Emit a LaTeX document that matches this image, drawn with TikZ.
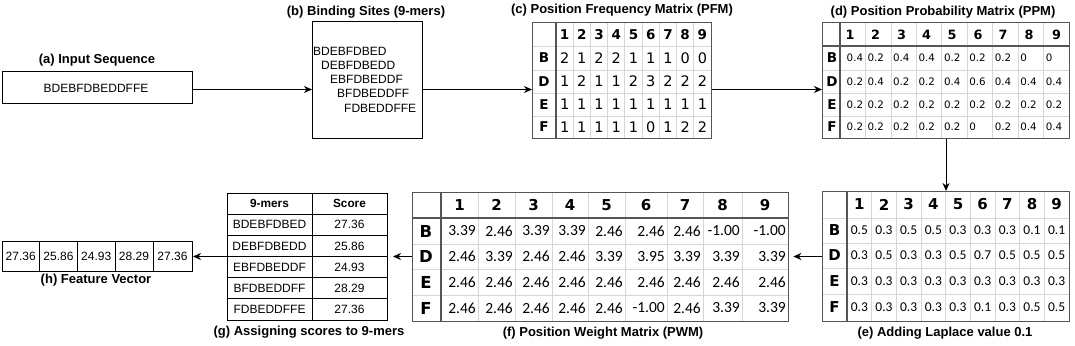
\documentclass[tikz,border=0pt]{standalone}
\usepackage{fontspec}
\setmainfont{Liberation Sans}[BoldFont={Liberation Sans Bold}]
\newfontfamily\dvs{DejaVu Sans}[BoldFont={DejaVu Sans Bold}]
\newfontfamily\carl{Carlito}[BoldFont={Carlito Bold}]
\usetikzlibrary{arrows.meta}
\definecolor{gridc}{HTML}{D6D6D6}
\definecolor{tabdark}{HTML}{555555}
\begin{document}
\begin{tikzpicture}[x=1pt,y=-1pt,
  title/.style={font=\fontsize{13}{15}\selectfont\bfseries, inner sep=0pt},
  txt/.style={font=\fontsize{12}{14}\selectfont, inner sep=0pt},
  boxframe/.style={draw=black, line width=1pt, anchor=north west, inner sep=0pt},
  tabframe/.style={draw=tabdark, line width=1.3pt, anchor=north west, inner sep=0pt},
  gridline/.style={draw=gridc, line width=0.8pt},
  darkline/.style={draw=tabdark, line width=1.3pt},
  blackline/.style={draw=black, line width=1pt},
  arr/.style={-{Stealth[length=8pt,width=7pt,inset=2.5pt]}, line width=1pt},
  pfmhead/.style={font=\dvs\bfseries\fontsize{13.5}{15}\selectfont, inner sep=0pt},
  pfmcell/.style={font=\dvs\fontsize{14.5}{16}\selectfont, inner sep=0pt},
  ppmhead/.style={font=\dvs\bfseries\fontsize{12.8}{15}\selectfont, inner sep=0pt},
  ppmcell/.style={font=\dvs\fontsize{10.3}{12}\selectfont, inner sep=0pt, anchor=west},
  laphead/.style={font=\dvs\bfseries\fontsize{15}{17}\selectfont, inner sep=0pt},
  lapcell/.style={font=\carl\fontsize{13.5}{15}\selectfont, inner sep=0pt},
  pwmhead/.style={font=\dvs\bfseries\fontsize{15}{17}\selectfont, inner sep=0pt},
  pwmlab/.style={font=\dvs\bfseries\fontsize{16.5}{18}\selectfont, inner sep=0pt},
  pwmcell/.style={font=\carl\fontsize{15.5}{17}\selectfont, inner sep=0pt, anchor=east},
]
\useasboundingbox (0,0) rectangle (1075,345);

% ---------- (a) input sequence ----------
\node[title] (ta) at (97,60) {(a) Input Sequence};
\node[boxframe, minimum width=190pt, minimum height=32pt] (inp) at (2,71) {};
\node[txt] (inptxt) at (96,88) {BDEBFDBEDDFFE};

% ---------- (b) binding sites ----------
\node[title] (tb) at (366,12) {(b) Binding Sites (9-mers)};
\node[boxframe, minimum width=110pt, minimum height=117pt] (bind) at (312,21) {};
\node[txt, anchor=west] (k1) at (313,51) {BDEBFDBED};
\node[txt, anchor=west] (k2) at (321,65) {DEBFDBEDD};
\node[txt, anchor=west] (k3) at (330,79) {EBFDBEDDF};
\node[txt, anchor=west] (k4) at (337,93) {BFDBEDDFF};
\node[txt, anchor=west] (k5) at (344,108) {FDBEDDFFE};

% ---------- (c) PFM ----------
\node[title] (tc) at (622,10) {(c) Position Frequency Matrix (PFM)};
\foreach \i in {1,...,8} \draw[gridline] ({556+\i*17.222},22) -- ({556+\i*17.222},138);
\foreach \y in {46,70,93,116} \draw[gridline] (532,\y) -- (711,\y);
\draw[darkline] (556,22) -- (556,138);
\node[tabframe, minimum width=179pt, minimum height=116pt] (pfm) at (532,22) {};
\foreach \h in {1,...,9} \node[pfmhead] (pfmh\h) at ({556+(\h-0.5)*17.222},34.5) {\h};
\foreach \yy/\lab/\vals in {58/B/{2,1,2,2,1,1,1,0,0},81.5/D/{1,2,1,1,2,3,2,2,2},104.5/E/{1,1,1,1,1,1,1,1,1},127/F/{1,1,1,1,1,0,1,2,2}}{
  \node[pfmhead] (pfml\lab) at (544,\yy) {\lab};
  \foreach \v [count=\c] in \vals \node[pfmcell] (pfm-\lab-\c) at ({556+(\c-0.5)*17.222},\yy) {\v};
}

% ---------- (d) PPM ----------
\node[title] (td) at (943,12) {(d) Position Probability Matrix (PPM)};
\foreach \i in {1,...,8} \draw[gridline] ({840+\i*25.444},22) -- ({840+\i*25.444},138);
\foreach \y in {70,93,116} \draw[gridline] (822,\y) -- (1069,\y);
\draw[darkline] (840,22) -- (840,138);
\draw[darkline] (822,46) -- (1069,46);
\node[tabframe, minimum width=247pt, minimum height=116pt] (ppm) at (822,22) {};
\def\ppmH{{850,875.5,901.5,926.5,952,978,1003,1029,1056.5}}
\foreach \h in {1,...,9}{
  \pgfmathsetmacro\xh{\ppmH[\h-1]}
  \node[ppmhead] (ppmh\h) at (\xh,34.5) {\h};
}
\def\ppmX{{846.5,867.4,892.9,918.3,943.8,969.2,994.7,1020.1,1045.6}}
\foreach \yy/\lab/\vals in {58/B/{0.4,0.2,0.4,0.4,0.2,0.2,0.2,0,0},81.5/D/{0.2,0.4,0.2,0.2,0.4,0.6,0.4,0.4,0.4},104.5/E/{0.2,0.2,0.2,0.2,0.2,0.2,0.2,0.2,0.2},127/F/{0.2,0.2,0.2,0.2,0.2,0,0.2,0.4,0.4}}{
  \node[pfmhead] (ppml\lab) at (832,\yy) {\lab};
  \foreach \v [count=\c] in \vals {
    \pgfmathsetmacro\xv{\ppmX[\c-1]}
    \node[ppmcell] (ppm-\lab-\c) at (\xv,\yy) {\v};
  }
}

% ---------- (e) Laplace ----------
\node[title] (te) at (945,333) {(e) Adding Laplace value 0.1};
\foreach \i in {1,...,8} \draw[gridline] ({847+\i*24.667},191) -- ({847+\i*24.667},321);
\foreach \y in {218,243,268,294} \draw[gridline] (822,\y) -- (1069,\y);
\draw[darkline] (847,191) -- (847,321);
\node[tabframe, minimum width=247pt, minimum height=130pt] (lap) at (822,191) {};
\foreach \h in {1,...,9} \node[laphead] (laph\h) at ({847+(\h-0.5)*24.667},204.5) {\h};
\foreach \yy/\lab/\vals in {230.5/B/{0.5,0.3,0.5,0.5,0.3,0.3,0.3,0.1,0.1},255.5/D/{0.3,0.5,0.3,0.3,0.5,0.7,0.5,0.5,0.5},281/E/{0.3,0.3,0.3,0.3,0.3,0.3,0.3,0.3,0.3},307.5/F/{0.3,0.3,0.3,0.3,0.3,0.1,0.3,0.5,0.5}}{
  \node[laphead] (lapl\lab) at (834.5,\yy) {\lab};
  \foreach \v [count=\c] in \vals \node[lapcell] (lap-\lab-\c) at ({847+(\c-0.5)*24.667},\yy) {\v};
}

% ---------- (f) PWM ----------
\node[title] (tf) at (603,333) {(f) Position Weight Matrix (PWM)};
\foreach \x in {478,515,552,588,625,667,703,742} \draw[gridline] (\x,192) -- (\x,321);
\foreach \y in {244,269,295} \draw[gridline] (412,\y) -- (788,\y);
\draw[darkline] (441,192) -- (441,321);
\draw[darkline] (412,218) -- (788,218);
\node[tabframe, minimum width=376pt, minimum height=129pt] (pwm) at (412,192) {};
\def\pwmX{{441,478,515,552,588,625,667,703,742,788}}
\foreach \h in {1,...,9}{
  \pgfmathsetmacro\xa{\pwmX[\h-1]}
  \pgfmathsetmacro\xb{\pwmX[\h]}
  \node[pwmhead] (pwmh\h) at ({(\xa+\xb)/2},205) {\h};
}
\foreach \yy/\lab/\vals in {231/B/{3.39,2.46,3.39,3.39,2.46,2.46,2.46,-1.00,-1.00},256.5/D/{2.46,3.39,2.46,2.46,3.39,3.95,3.39,3.39,3.39},282/E/{2.46,2.46,2.46,2.46,2.46,2.46,2.46,2.46,2.46},308/F/{2.46,2.46,2.46,2.46,2.46,-1.00,2.46,3.39,3.39}}{
  \node[pwmlab] (pwml\lab) at (426,\yy) {\lab};
  \foreach \v [count=\c] in \vals {
    \pgfmathsetmacro\xr{\pwmX[\c]}
    \node[pwmcell] (pwm-\lab-\c) at ({\xr-2},\yy) {\v};
  }
}

% ---------- (g) scores ----------
\node[title] (tg) at (309,332) {(g) Assigning scores to 9-mers};
\draw[blackline] (312,193) -- (312,320);
\foreach \k in {1,...,5} \draw[blackline] (227,{193+\k*21.167}) -- (387,{193+\k*21.167});
\node[boxframe, minimum width=160pt, minimum height=127pt] (score) at (227,193) {};
\node[txt, font=\fontsize{11.8}{14}\selectfont\bfseries] (sh1) at (269.5,203.6) {9-mers};
\node[txt, font=\fontsize{11.8}{14}\selectfont\bfseries] (sh2) at (349.5,203.6) {Score};
\foreach \m/\s [count=\k] in {BDEBFDBED/27.36,DEBFDBEDD/25.86,EBFDBEDDF/24.93,BFDBEDDFF/28.29,FDBEDDFFE/27.36}{
  \node[txt] (sm\k) at (269.5,{193+(\k+0.5)*21.167}) {\m};
  \node[txt] (sv\k) at (349.5,{193+(\k+0.5)*21.167}) {\s};
}

% ---------- (h) feature vector ----------
\node[title] (th) at (96,280) {(h) Feature Vector};
\foreach \x in {39.5,77.5,115,153} \draw[blackline] (\x,241) -- (\x,271);
\node[boxframe, minimum width=190pt, minimum height=30pt] (fv) at (2,241) {};
\foreach \xa/\xb/\s [count=\k] in {2/39.5/27.36,39.5/77.5/25.86,77.5/115/24.93,115/153/28.29,153/192/27.36}
  \node[txt] (fv\k) at ({(\xa+\xb)/2},256) {\s};

% ---------- connectors ----------
\coordinate (ytop) at (0,89.5);
\coordinate (xde) at (946,0);
\coordinate (ybot) at (0,256.5);
\draw[arr] (inp.east |- ytop) -- (bind.west |- ytop);
\draw[arr] (bind.east |- ytop) -- (pfm.west |- ytop);
\draw[arr] (pfm.east |- ytop) -- (ppm.west |- ytop);
\draw[arr] (ppm.south -| xde) -- (lap.north -| xde);
\draw[arr, shorten >=4pt] (lap.west |- ybot) -- (pwm.east |- ybot);
\draw[arr, shorten >=5pt] (pwm.west |- ybot) -- (score.east |- ybot);
\draw[arr] (score.west |- ybot) -- (fv.east |- ybot);
\end{tikzpicture}
\end{document}
